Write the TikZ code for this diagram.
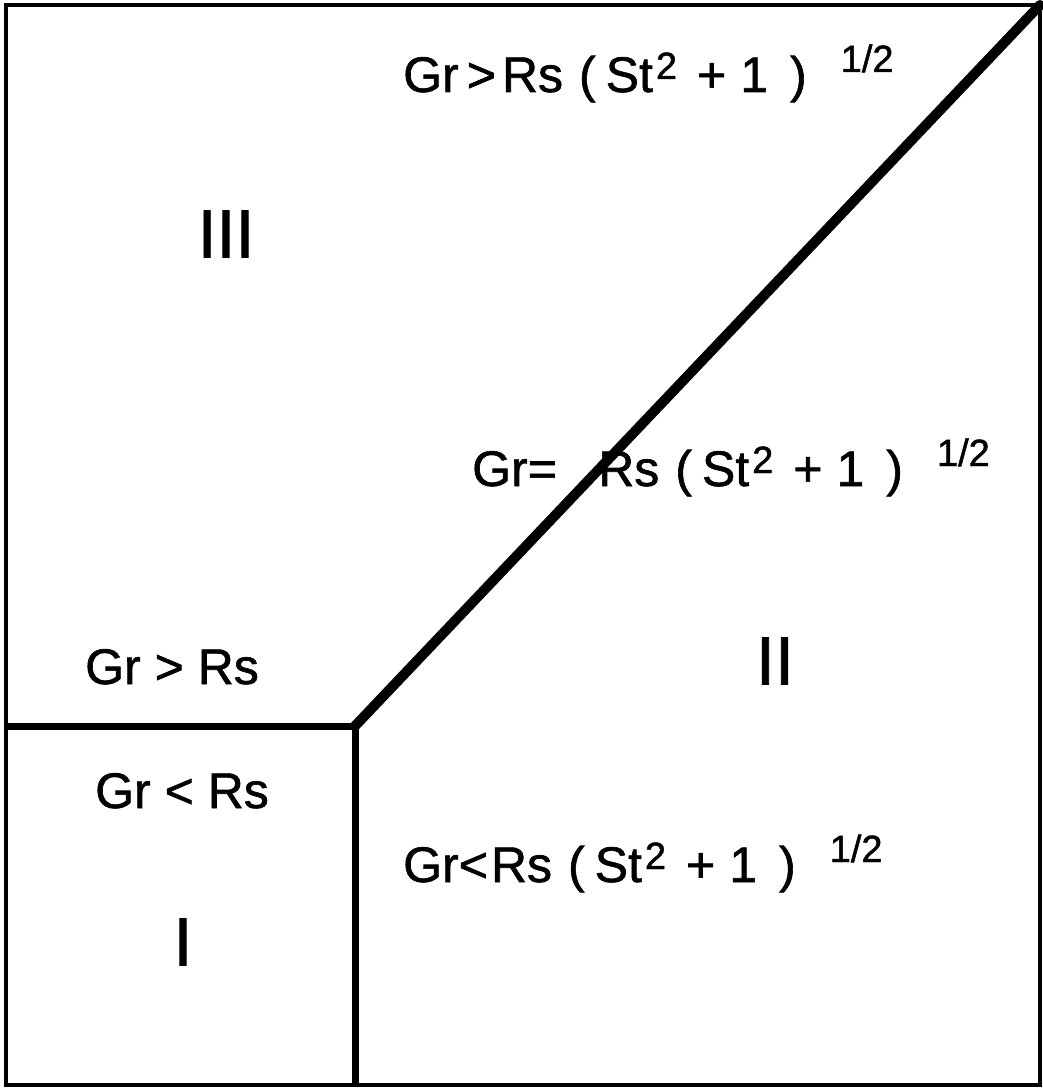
\documentclass[tikz,border=0pt]{standalone}
\usepackage{fontspec}
\setmainfont{Liberation Sans}
\newfontfamily\heavy{Liberation Sans}[FakeBold=1.2]
\newcommand\lblfont{\heavy\fontsize{50}{52}\selectfont}
\newcommand\numfont{\heavy\fontsize{68}{70}\selectfont}
\newcommand\supa[1]{\raisebox{13pt}{\fontsize{38}{38}\selectfont #1}}
\newcommand\supb[1]{\raisebox{20pt}{\fontsize{38}{38}\selectfont #1}}
\newcommand\rsexpr{Rs\hspace{16pt}(\hspace{10pt}St\hspace{3pt}\supa{2}\hspace{20pt}+\hspace{14pt}1\hspace{22pt})\hspace{34pt}\supb{1/2}}
\tikzset{
  frame/.style={line width=4.5pt},
  divider/.style={line width=7pt},
  diag/.style={line width=10pt},
  lbl/.style={inner sep=0pt, anchor=base west, font=\lblfont},
  num/.style={inner sep=0pt, font=\numfont}
}
\begin{document}
\begin{tikzpicture}[x=1pt,y=-1pt]
\useasboundingbox (0,0) rectangle (1043,1089);
\coordinate (tl) at (6,5);
\coordinate (tr) at (1040,5);
\coordinate (br) at (1040,1085);
\coordinate (bl) at (6,1085);
\coordinate (ml) at (6,726);
\coordinate (c) at (355,726);
\coordinate (cb) at (355,1085);
\draw[frame] (tl) -- (tr) -- (br) -- (bl) -- cycle;
\draw[divider] (ml) -- (c) -- (cb);
\draw[diag, line cap=round] (c) -- (tr);
% labels
\node[lbl] (top) at (403,92) {Gr\hspace{8pt}>\hspace{6pt}\rsexpr};
\node[num] (n3) at (226,234) {III};
\node[lbl] (eqL) at (472,486) {Gr=};
\node[lbl] (eqR) at (598,486) {\rsexpr};
\node[lbl] (gtR) at (85,684) {Gr > Rs};
\node[num] (n2) at (775,661) {II};
\node[lbl] (ltR) at (95,808) {Gr < Rs};
\node[lbl] (bot) at (403,882) {Gr<\hspace{3pt}\rsexpr};
\node[num] (n1) at (183,942) {I};
\end{tikzpicture}
\end{document}
